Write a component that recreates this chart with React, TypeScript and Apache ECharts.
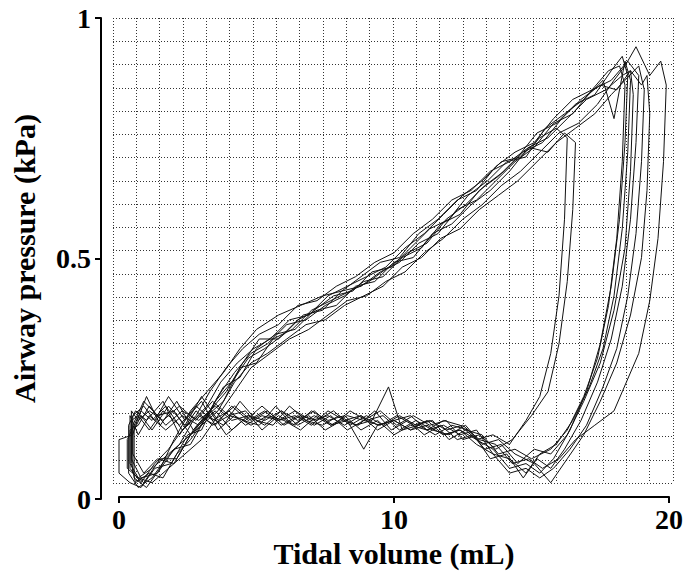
import React, { useEffect, useRef } from "react";
import * as echarts from "echarts";

const xTickValues = [0, 10, 20];
const yTickValues = [0, 0.5, 1];
const xTitle = "Tidal volume (mL)";
const yTitle = "Airway pressure (kPa)";

const loopA = [[0.45,0.16],[0.45,0.07],[0.6,0.03],[1.1,0.05],[1.6,0.04],[2.1,0.09],[2.6,0.12],[3.1,0.16],[3.6,0.21],[4.2,0.26],[4.8,0.30],[5.4,0.32],[6.1,0.36],[6.8,0.37],[7.5,0.40],[8.2,0.42],[8.9,0.45],[9.6,0.46],[10.3,0.50],[11.0,0.52],[11.7,0.57],[12.4,0.59],[13.1,0.64],[13.8,0.67],[14.5,0.71],[15.2,0.76],[15.9,0.78],[16.6,0.82],[17.3,0.84],[17.9,0.89],[18.3,0.92],[18.5,0.88],[18.4,0.74],[18.2,0.58],[17.9,0.44],[17.5,0.32],[17.0,0.22],[16.4,0.14],[15.8,0.08],[15.3,0.05],[14.8,0.07],[14.2,0.06],[13.6,0.10],[13.0,0.12],[12.4,0.14],[11.8,0.13],[11.2,0.15],[10.6,0.14],[10.0,0.16],[9.4,0.15],[8.8,0.17],[8.2,0.15],[7.6,0.17],[7.0,0.16],[6.4,0.18],[5.8,0.16],[5.2,0.17],[4.6,0.15],[4.0,0.18],[3.4,0.16],[2.8,0.19],[2.2,0.15],[1.6,0.18],[1.1,0.14],[0.7,0.17],[0.45,0.16]];
const loopB = [[0.5,0.13],[0.0,0.12],[0.0,0.05],[0.4,0.03],[0.8,0.02],[1.3,0.06],[1.9,0.07],[2.5,0.13],[3.0,0.14],[3.5,0.20],[4.1,0.24],[4.7,0.29],[5.3,0.31],[6.0,0.34],[6.7,0.38],[7.4,0.39],[8.1,0.43],[8.8,0.44],[9.5,0.47],[10.2,0.49],[10.9,0.53],[11.6,0.55],[12.3,0.60],[13.0,0.62],[13.7,0.66],[14.4,0.70],[15.1,0.73],[15.8,0.78],[16.5,0.80],[17.2,0.85],[17.9,0.87],[18.5,0.91],[18.9,0.88],[18.8,0.74],[18.6,0.58],[18.3,0.44],[17.9,0.33],[17.4,0.24],[16.8,0.16],[16.2,0.10],[15.7,0.06],[15.2,0.08],[14.7,0.04],[14.1,0.09],[13.5,0.08],[12.9,0.13],[12.3,0.12],[11.7,0.15],[11.1,0.13],[10.5,0.16],[9.9,0.14],[9.3,0.18],[8.7,0.15],[8.1,0.16],[7.5,0.14],[6.9,0.17],[6.3,0.15],[5.7,0.19],[5.1,0.15],[4.5,0.16],[3.9,0.13],[3.3,0.18],[2.7,0.14],[2.1,0.20],[1.5,0.15],[1.0,0.21],[0.6,0.15],[0.5,0.13]];
const loopC = [[0.3,0.12],[0.3,0.06],[0.7,0.04],[1.2,0.03],[1.8,0.06],[2.4,0.09],[3.0,0.12],[3.6,0.17],[4.2,0.22],[4.8,0.27],[5.5,0.30],[6.2,0.33],[6.9,0.35],[7.6,0.38],[8.3,0.41],[9.0,0.42],[9.7,0.45],[10.4,0.47],[11.1,0.51],[11.8,0.54],[12.5,0.58],[13.2,0.61],[13.9,0.65],[14.6,0.68],[15.3,0.72],[16.0,0.76],[16.7,0.78],[17.4,0.82],[18.0,0.87],[18.4,0.90],[18.8,0.94],[19.3,0.88],[19.7,0.91],[19.9,0.86],[19.8,0.70],[19.6,0.54],[19.3,0.41],[18.9,0.30],[18.0,0.18],[17.3,0.15],[16.6,0.12],[16.0,0.08],[15.4,0.06],[14.9,0.08],[14.3,0.07],[13.7,0.11],[13.1,0.12],[12.5,0.15],[11.9,0.14],[11.3,0.16],[10.7,0.15],[10.1,0.17],[9.5,0.15],[8.9,0.16],[8.3,0.14],[7.7,0.17],[7.1,0.15],[6.5,0.17],[5.9,0.15],[5.3,0.18],[4.7,0.16],[4.1,0.19],[3.5,0.15],[2.9,0.17],[2.3,0.14],[1.7,0.19],[1.2,0.16],[0.8,0.18],[0.3,0.12]];
const loopD = [[0.5,0.17],[0.5,0.09],[0.9,0.05],[1.4,0.08],[2.0,0.07],[2.6,0.13],[3.2,0.17],[3.8,0.20],[4.4,0.27],[5.0,0.28],[5.6,0.33],[6.3,0.35],[7.0,0.39],[7.7,0.41],[8.4,0.43],[9.1,0.45],[9.8,0.48],[10.5,0.51],[11.2,0.53],[11.9,0.58],[12.6,0.61],[13.3,0.65],[14.0,0.68],[14.7,0.72],[15.4,0.74],[16.1,0.79],[16.8,0.83],[17.5,0.86],[18.1,0.85],[18.6,0.89],[19.0,0.86],[19.2,0.88],[19.3,0.80],[19.2,0.64],[19.0,0.50],[18.6,0.38],[18.1,0.28],[17.5,0.20],[16.9,0.13],[16.3,0.08],[15.7,0.03],[15.1,0.07],[14.4,0.09],[13.8,0.12],[13.2,0.11],[12.6,0.15],[12.0,0.13],[11.4,0.14],[10.8,0.16],[10.2,0.14],[9.6,0.17],[9.0,0.16],[8.4,0.18],[7.8,0.15],[7.2,0.17],[6.6,0.14],[6.0,0.16],[5.4,0.17],[4.8,0.15],[4.2,0.17],[3.6,0.14],[3.0,0.20],[2.4,0.16],[1.8,0.21],[1.3,0.16],[0.9,0.19],[0.5,0.17]];
const loopE = [[0.4,0.14],[0.4,0.06],[0.8,0.03],[1.3,0.07],[1.8,0.10],[2.3,0.14],[2.8,0.17],[3.3,0.22],[3.9,0.27],[4.5,0.31],[5.1,0.34],[5.8,0.36],[6.5,0.40],[7.2,0.41],[7.9,0.44],[8.6,0.46],[9.3,0.49],[10.0,0.51],[10.7,0.55],[11.4,0.58],[12.1,0.62],[12.8,0.64],[13.5,0.68],[14.2,0.70],[14.9,0.73],[15.6,0.72],[16.2,0.76],[16.6,0.74],[16.5,0.60],[16.3,0.45],[16.0,0.32],[15.6,0.22],[15.0,0.17],[14.3,0.12],[13.7,0.10],[13.1,0.13],[12.5,0.12],[11.9,0.16],[11.3,0.15],[10.7,0.17],[10.1,0.15],[9.5,0.18],[8.9,0.16],[8.3,0.17],[7.7,0.15],[7.1,0.18],[6.5,0.16],[5.9,0.18],[5.3,0.15],[4.7,0.17],[4.1,0.16],[3.5,0.19],[2.9,0.16],[2.3,0.18],[1.7,0.15],[1.1,0.19],[0.7,0.15],[0.4,0.14]];
const loopF = [[0.35,0.15],[0.35,0.05],[0.7,0.02],[1.2,0.04],[1.7,0.08],[2.2,0.11],[2.7,0.16],[3.2,0.19],[3.7,0.24],[4.3,0.28],[4.9,0.31],[5.5,0.33],[6.2,0.37],[6.9,0.38],[7.6,0.42],[8.3,0.44],[9.0,0.46],[9.7,0.48],[10.4,0.52],[11.1,0.55],[11.8,0.59],[12.5,0.63],[13.2,0.66],[13.9,0.70],[14.6,0.71],[15.3,0.75],[15.9,0.77],[16.3,0.75],[16.2,0.58],[16.0,0.42],[15.7,0.30],[15.3,0.21],[14.8,0.16],[14.2,0.11],[13.6,0.13],[13.0,0.12],[12.4,0.15],[11.8,0.16],[11.2,0.14],[10.6,0.17],[10.0,0.16],[9.4,0.14],[8.8,0.17],[8.2,0.16],[7.6,0.18],[7.0,0.15],[6.4,0.17],[5.8,0.16],[5.2,0.19],[4.6,0.16],[4.0,0.17],[3.4,0.15],[2.8,0.18],[2.2,0.13],[1.6,0.20],[1.0,0.16],[0.6,0.18],[0.35,0.15]];
const loopG = [[0.45,0.18],[0.45,0.08],[0.8,0.04],[1.4,0.05],[2.0,0.10],[2.6,0.11],[3.2,0.17],[3.8,0.23],[4.4,0.25],[5.0,0.31],[5.7,0.34],[6.4,0.35],[7.1,0.39],[7.8,0.42],[8.5,0.43],[9.2,0.47],[9.9,0.48],[10.6,0.52],[11.3,0.56],[12.0,0.58],[12.7,0.63],[13.4,0.66],[14.1,0.70],[14.8,0.71],[15.5,0.77],[16.2,0.80],[16.9,0.83],[17.6,0.87],[18.0,0.79],[18.4,0.91],[18.6,0.87],[18.5,0.72],[18.3,0.56],[18.0,0.42],[17.6,0.31],[17.1,0.23],[16.5,0.16],[15.9,0.11],[15.3,0.09],[14.8,0.05],[14.2,0.08],[13.6,0.09],[13.0,0.14],[12.4,0.13],[11.8,0.15],[11.2,0.14],[10.6,0.15],[10.0,0.13],[9.4,0.16],[8.8,0.14],[8.2,0.17],[7.6,0.16],[7.0,0.18],[6.4,0.15],[5.8,0.17],[5.2,0.14],[4.6,0.18],[4.0,0.17],[3.4,0.20],[2.8,0.16],[2.2,0.19],[1.6,0.16],[1.1,0.18],[0.7,0.16],[0.45,0.18]];
const loopH = [[0.5,0.15],[0.5,0.05],[0.9,0.03],[1.5,0.08],[2.1,0.08],[2.7,0.14],[3.3,0.18],[3.9,0.22],[4.5,0.28],[5.1,0.33],[5.8,0.33],[6.5,0.37],[7.2,0.39],[7.9,0.40],[8.6,0.44],[9.3,0.45],[10.0,0.49],[10.7,0.50],[11.4,0.55],[12.1,0.57],[12.8,0.61],[13.5,0.64],[14.2,0.68],[14.9,0.73],[15.6,0.75],[16.3,0.79],[17.0,0.83],[17.7,0.85],[18.3,0.88],[18.6,0.89],[18.7,0.84],[18.6,0.68],[18.4,0.52],[18.0,0.39],[17.5,0.28],[16.9,0.20],[16.3,0.13],[15.7,0.09],[15.1,0.10],[14.5,0.07],[13.9,0.11],[13.3,0.10],[12.7,0.14],[12.1,0.15],[11.5,0.13],[10.9,0.15],[10.3,0.14],[9.8,0.23],[9.2,0.16],[8.6,0.15],[8.0,0.17],[7.4,0.15],[6.8,0.16],[6.2,0.19],[5.6,0.15],[5.0,0.16],[4.4,0.20],[3.8,0.15],[3.2,0.17],[2.6,0.13],[2.0,0.18],[1.4,0.17],[0.9,0.20],[0.5,0.15]];
const loopI = [[0.4,0.17],[0.4,0.07],[0.7,0.04],[1.2,0.06],[1.8,0.09],[2.4,0.12],[3.0,0.15],[3.6,0.18],[4.2,0.24],[4.8,0.28],[5.4,0.30],[6.1,0.33],[6.8,0.36],[7.5,0.37],[8.2,0.40],[8.9,0.42],[9.6,0.44],[10.3,0.48],[11.0,0.50],[11.7,0.54],[12.4,0.56],[13.1,0.60],[13.8,0.63],[14.5,0.66],[15.2,0.70],[15.9,0.74],[16.6,0.77],[17.3,0.80],[17.9,0.84],[18.4,0.87],[18.9,0.90],[19.1,0.85],[19.0,0.70],[18.8,0.55],[18.5,0.42],[18.1,0.31],[17.6,0.23],[17.0,0.15],[16.4,0.10],[15.8,0.06],[15.3,0.04],[14.8,0.06],[14.2,0.05],[13.6,0.09],[13.0,0.11],[12.4,0.14],[11.8,0.13],[11.2,0.16],[10.6,0.14],[10.0,0.16],[9.4,0.15],[8.9,0.10],[8.3,0.16],[7.7,0.15],[7.1,0.17],[6.5,0.15],[5.9,0.18],[5.3,0.16],[4.7,0.17],[4.1,0.14],[3.5,0.18],[2.9,0.15],[2.3,0.17],[1.7,0.14],[1.1,0.17],[0.7,0.13],[0.4,0.17]];
const loopJ = [[0.55,0.14],[0.55,0.04],[1.0,0.02],[1.5,0.06],[2.0,0.12],[2.6,0.18],[3.2,0.22],[3.8,0.26],[4.4,0.31],[5.0,0.35],[5.8,0.38],[6.6,0.40],[7.4,0.42],[8.1,0.43],[8.8,0.46],[9.5,0.49],[10.2,0.50],[10.9,0.55],[11.6,0.58],[12.3,0.62],[13.0,0.64],[13.7,0.69],[14.4,0.72],[15.1,0.74],[15.8,0.79],[16.5,0.83],[17.2,0.85],[17.8,0.89],[18.2,0.90],[18.4,0.86],[18.3,0.70],[18.1,0.54],[17.8,0.40],[17.4,0.29],[16.9,0.21],[16.3,0.14],[15.7,0.10],[15.0,0.08],[14.4,0.10],[13.8,0.09],[13.2,0.13],[12.6,0.14],[12.0,0.12],[11.4,0.16],[10.8,0.15],[10.2,0.17],[9.6,0.15],[9.0,0.17],[8.4,0.15],[7.8,0.18],[7.2,0.16],[6.6,0.17],[6.0,0.15],[5.4,0.18],[4.8,0.16],[4.2,0.19],[3.6,0.16],[3.0,0.21],[2.4,0.15],[1.8,0.19],[1.2,0.14],[0.8,0.17],[0.55,0.14]];

const loops = [loopA, loopB, loopC, loopD, loopE, loopF, loopG, loopH, loopI, loopJ];

export default function App() {
  const ref = useRef<HTMLDivElement>(null);
  useEffect(() => {
    if (!ref.current) return;
    const chart = echarts.init(ref.current, null, { renderer: "svg" });
    const font = "'Liberation Serif', 'Times New Roman', serif";
    const dotted = { type: [1, 2] as any, color: "#333", width: 1 };
    const hidden = { axisLine: { show: false }, axisTick: { show: false }, axisLabel: { show: false }, splitLine: { show: false } };
    chart.setOption({
      animation: false,
      backgroundColor: "#ffffff",
      grid: [
        { left: 113, right: 13, top: 18, bottom: 90 },
        { left: 101, right: 13.3, top: 18, bottom: 74 },
        { left: 119, right: 13.3, top: 18, bottom: 74 },
      ],
      xAxis: [
        {
          gridIndex: 0, type: "value", min: 0, max: 24, interval: 1,
          axisLine: { show: false }, axisTick: { show: false }, axisLabel: { show: false },
          splitLine: { show: true, showMinLine: true, showMaxLine: true, lineStyle: dotted },
        },
        { gridIndex: 1, type: "value", min: 0, max: 1, ...hidden },
        {
          gridIndex: 2, type: "value", min: 0, max: 20, interval: 10,
          name: xTitle, nameLocation: "middle", nameGap: 36,
          nameTextStyle: { fontFamily: font, fontWeight: "bold", fontSize: 30, color: "#000" },
          axisLine: { show: true, lineStyle: { color: "#000", width: 2 } },
          axisTick: { show: true, length: 6, inside: false, lineStyle: { color: "#000", width: 2 } },
          axisLabel: {
            margin: 8, fontFamily: font, fontWeight: "bold", fontSize: 28, color: "#000",
            formatter: (v: number) => (xTickValues.includes(v) ? String(v) : ""),
          },
          splitLine: { show: false },
        },
      ],
      yAxis: [
        {
          gridIndex: 0, type: "value", min: 0, max: 20, interval: 1,
          axisLine: { show: false }, axisTick: { show: false }, axisLabel: { show: false },
          splitLine: { show: true, showMinLine: true, showMaxLine: true, lineStyle: dotted },
        },
        {
          gridIndex: 1, type: "value", min: 0, max: 1, interval: 0.5,
          name: yTitle, nameLocation: "middle", nameGap: 62, nameMoveOverlap: false,
          nameTextStyle: { fontFamily: font, fontWeight: "bold", fontSize: 30, color: "#000" },
          axisLine: { show: true, lineStyle: { color: "#000", width: 2 } },
          axisTick: { show: true, length: 6, inside: false, lineStyle: { color: "#000", width: 2 } },
          axisLabel: {
            margin: 10, fontFamily: font, fontWeight: "bold", fontSize: 28, color: "#000",
            formatter: (v: number) => (yTickValues.includes(v) ? String(v) : ""),
          },
          splitLine: { show: false },
        },
        { gridIndex: 2, type: "value", min: 0, max: 1, ...hidden },
      ],
      series: loops.map((d, i) => ({
        name: "breath " + (i + 1),
        type: "line",
        xAxisIndex: 2,
        yAxisIndex: 2,
        data: d,
        showSymbol: false,
        symbol: "none",
        clip: false,
        lineStyle: { color: "#111", width: 1 },
        z: 3,
      })),
    });
    return () => chart.dispose();
  }, []);
  return (
    <div
      ref={ref}
      style={{ position: "fixed", left: 0, top: 0, width: 686, height: 573, background: "#fff" }}
    />
  );
}
